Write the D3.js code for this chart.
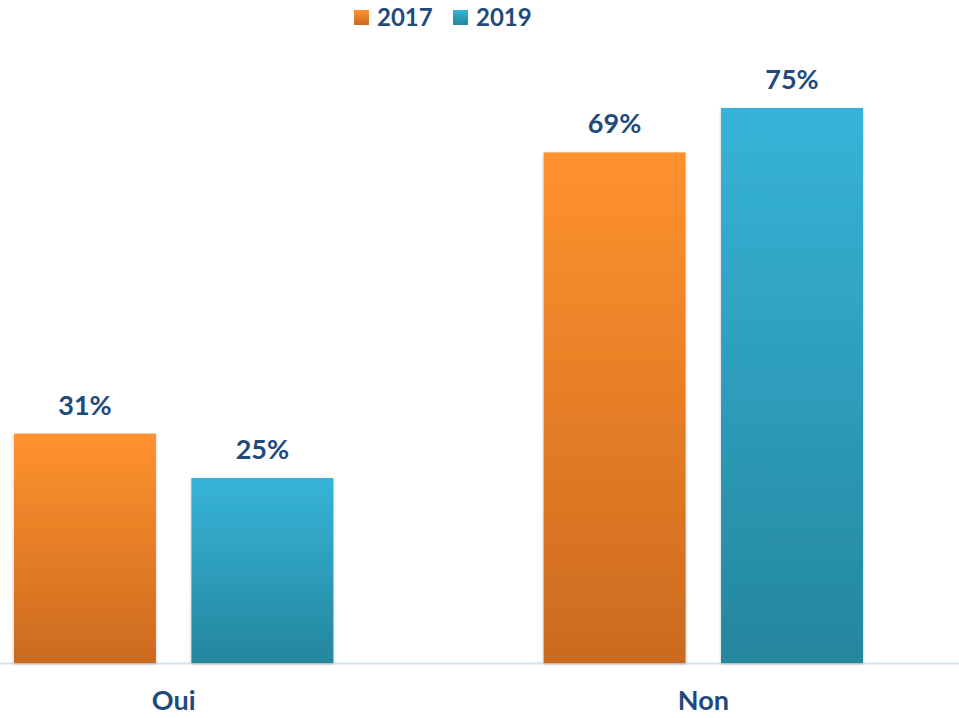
<!DOCTYPE html>
<html>
  <head>
    <title>Oui / Non</title>
    <script src="https://d3js.org/d3.v7.min.js"></script>
    <style>
      body { margin: 0; background: #fff; }
      text { font-family: Lato, "Open Sans", sans-serif; font-weight: bold; fill: #1F4A7C; }
    </style>
  </head>
  <body>
  <script>

var categories = ["Oui", "Non"];
var years = ["2017", "2019"];
var values2017 = [31, 69];
var values2019 = [25, 75];
var valueLabels = [["31%", "25%"], ["69%", "75%"]];

var width = 959, height = 718;

var svg = d3.select("body").append("svg")
    .attr("width", width)
    .attr("height", height);

var defs = svg.append("defs");

// gradients, top light -> bottom dark
var grads = [
    {id: "g2017", top: "#FF922E", bottom: "#CB6A1F"},
    {id: "g2019", top: "#36B4D8", bottom: "#25869E"}
];
grads.forEach(function(g) {
    var lg = defs.append("linearGradient").attr("id", g.id)
        .attr("x1", 0).attr("y1", 0).attr("x2", 0).attr("y2", 1);
    lg.append("stop").attr("offset", "0%").attr("stop-color", g.top);
    lg.append("stop").attr("offset", "100%").attr("stop-color", g.bottom);
});

var shadow = defs.append("filter").attr("id", "shadow")
    .attr("x", "-10%").attr("y", "-10%").attr("width", "120%").attr("height", "120%");
shadow.append("feDropShadow")
    .attr("dx", 0).attr("dy", 1).attr("stdDeviation", 1.5)
    .attr("flood-color", "#000").attr("flood-opacity", 0.25);

var x0 = d3.scaleBand().domain(categories).range([14, 863]).paddingInner(0.397).paddingOuter(0);
var x1 = d3.scaleBand().domain(years).range([0, x0.bandwidth()]).paddingInner(0.2).paddingOuter(0);
var y = d3.scaleLinear().domain([0, 75]).range([663, 108]);

var rows = categories.map(function(c, i) {
    return [
        {cat: c, year: "2017", value: values2017[i], label: valueLabels[i][0]},
        {cat: c, year: "2019", value: values2019[i], label: valueLabels[i][1]}
    ];
});

// axis line
svg.append("line")
    .attr("x1", 0).attr("x2", width)
    .attr("y1", y(0) + 0.5).attr("y2", y(0) + 0.5)
    .attr("stroke", "#D6E2F0").attr("stroke-width", 2);

var groups = svg.selectAll("g.cat")
    .data(rows)
    .enter().append("g")
    .attr("class", "cat")
    .attr("transform", function(d) { return "translate(" + x0(d[0].cat) + ",0)"; });

groups.selectAll("rect")
    .data(function(d) { return d; })
    .enter().append("rect")
    .attr("x", function(d) { return x1(d.year); })
    .attr("y", function(d) { return y(d.value); })
    .attr("width", x1.bandwidth())
    .attr("height", function(d) { return y(0) - y(d.value); })
    .attr("fill", function(d) { return "url(#g" + d.year + ")"; })
    .attr("filter", "url(#shadow)");

groups.selectAll("text.val")
    .data(function(d) { return d; })
    .enter().append("text")
    .attr("class", "val")
    .attr("x", function(d) { return x1(d.year) + x1.bandwidth() / 2; })
    .attr("y", function(d) { return y(d.value) - 19; })
    .attr("text-anchor", "middle")
    .style("font-size", "27px")
    .text(function(d) { return d.label; });

// category labels
var xAxis = d3.axisBottom(x0).tickSize(0).tickPadding(0);
var ax = svg.append("g")
    .attr("transform", "translate(0," + (y(0) + 47) + ")")
    .call(xAxis);
ax.select(".domain").remove();
ax.selectAll("text")
    .attr("dy", 0)
    .style("font-size", "27px")
    .style("font-family", "Lato, 'Open Sans', sans-serif")
    .attr("fill", "#1F4A7C");

// legend
var legend = svg.append("g").attr("class", "legend");
var legendX = [354, 453];
years.forEach(function(yr, i) {
    var lg = legend.append("g").attr("transform", "translate(" + legendX[i] + ",10)");
    lg.append("rect").attr("width", 15).attr("height", 15)
        .attr("fill", "url(#g" + yr + ")");
    lg.append("text").attr("x", 23).attr("y", 15.5)
        .style("font-size", "24px")
        .text(yr);
});

  </script>
  </body>
</html>
